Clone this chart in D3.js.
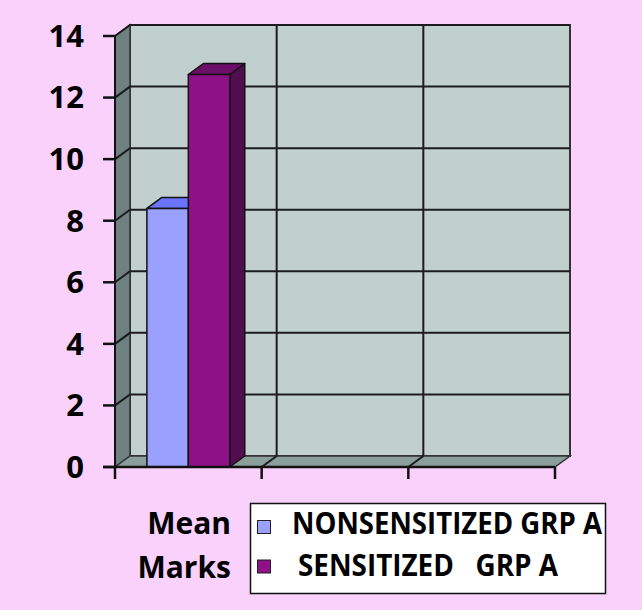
<!DOCTYPE html>
<html>
<head>
<meta charset="utf-8">
<script src="https://cdn.jsdelivr.net/npm/d3@7"></script>
<style>
  html, body { margin: 0; padding: 0; background: #f9d1fb; }
  svg { display: block; }
  text { font-family: "Open Sans", "Liberation Sans", sans-serif; font-weight: bold; fill: #000; }
</style>
</head>
<body>
<svg id="chart" width="642" height="610"></svg>
<script>
// ---- data ----
const categories = ["Mean Marks", "", " "];
const seriesNames = ["NONSENSITIZED GRP A", "SENSITIZED   GRP A"];
const nonsensitized = [8.4, null, null];
const sensitized = [12.75, null, null];
const yTicks = [0, 2, 4, 6, 8, 10, 12, 14];
const seriesColors = ["#99a0fe", "#8e1187"];
const seriesTopColors = ["#6a74fd", "#6c0f68"];
const seriesSideColors = ["#5f66c8", "#520c50"];

const svg = d3.select("#chart");
const W = 642, H = 610;
svg.append("rect").attr("width", W).attr("height", H).attr("fill", "#f9d1fb");

// 3D geometry
const dx = 15, dy = -11;
const x0 = 115, x1 = 555, yTop = 36, yBot = 467;

const y = d3.scaleLinear().domain([0, 14]).range([yBot, yTop]);
const x = d3.scaleBand().domain(categories).range([x0, x1]).paddingInner(0).paddingOuter(0);
const xs = d3.scaleBand().domain(seriesNames).range([0, x.bandwidth()]).paddingInner(0).paddingOuter(0.77);

const line = d3.line();
const gridColor = "#1c1c1c";

// back wall
svg.append("path")
  .attr("d", line([[x0 + dx, y(14) + dy], [x1 + dx, y(14) + dy], [x1 + dx, y(0) + dy], [x0 + dx, y(0) + dy]]) + "Z")
  .attr("fill", "#c2cfcf").attr("stroke", "#333").attr("stroke-width", 2);
// side wall
svg.append("path")
  .attr("d", line([[x0, y(14)], [x0 + dx, y(14) + dy], [x0 + dx, y(0) + dy], [x0, y(0)]]) + "Z")
  .attr("fill", "#6e8080").attr("stroke", "#333").attr("stroke-width", 1.5);
// floor
svg.append("path")
  .attr("d", line([[x0, y(0)], [x0 + dx, y(0) + dy], [x1 + dx, y(0) + dy], [x1, y(0)]]) + "Z")
  .attr("fill", "#8a9e9a").attr("stroke", "#333").attr("stroke-width", 1.5);

// horizontal gridlines (back + side wall)
yTicks.filter(t => t > 0).forEach(t => {
  svg.append("path")
    .attr("d", line([[x0, y(t)], [x0 + dx, y(t) + dy], [x1 + dx, y(t) + dy]]))
    .attr("fill", "none").attr("stroke", gridColor).attr("stroke-width", 2);
});
// vertical gridlines at category boundaries (back wall + floor)
categories.slice(1).forEach(c => {
  const xb = x(c);
  svg.append("path")
    .attr("d", line([[xb, y(0)], [xb + dx, y(0) + dy], [xb + dx, y(14) + dy]]))
    .attr("fill", "none").attr("stroke", gridColor).attr("stroke-width", 2);
});

// bars
const seriesValues = [nonsensitized, sensitized];
seriesNames.forEach((s, si) => {
  categories.forEach((c, ci) => {
    const v = seriesValues[si][ci];
    if (v == null) return;
    const bx = x(c) + xs(s), bw = xs.bandwidth();
    const by = y(v), b0 = y(0);
    const g = svg.append("g").attr("stroke", "#111").attr("stroke-width", 1.5).attr("stroke-linejoin", "round");
    // side
    g.append("path").attr("d", line([[bx + bw, by], [bx + bw + dx, by + dy], [bx + bw + dx, b0 + dy], [bx + bw, b0]]) + "Z")
      .attr("fill", seriesSideColors[si]);
    // top
    g.append("path").attr("d", line([[bx, by], [bx + dx, by + dy], [bx + bw + dx, by + dy], [bx + bw, by]]) + "Z")
      .attr("fill", seriesTopColors[si]);
    // front
    g.append("rect").attr("x", bx).attr("y", by).attr("width", bw).attr("height", b0 - by)
      .attr("fill", seriesColors[si]);
  });
});

// y axis
svg.append("line").attr("x1", x0).attr("x2", x0).attr("y1", y(14)).attr("y2", y(0))
  .attr("stroke", "#111").attr("stroke-width", 2);
yTicks.forEach(t => {
  svg.append("line").attr("x1", x0 - 12).attr("x2", x0).attr("y1", y(t)).attr("y2", y(t))
    .attr("stroke", "#111").attr("stroke-width", 2.5);
  svg.append("text").attr("x", 84).attr("y", y(t)).attr("dy", "0.35em")
    .attr("text-anchor", "end").attr("font-size", 31).text(t);
});

// x axis
svg.append("line").attr("x1", x0 - 12).attr("x2", x1).attr("y1", y(0)).attr("y2", y(0))
  .attr("stroke", "#111").attr("stroke-width", 2.5);
const xBounds = categories.map(c => x(c)).concat([x1]);
xBounds.forEach(xb => {
  svg.append("line").attr("x1", xb).attr("x2", xb).attr("y1", y(0)).attr("y2", y(0) + 12)
    .attr("stroke", "#111").attr("stroke-width", 2.5);
});

// category label (two lines, left of legend)
const catWords = categories[0].split(" ");
catWords.forEach((w, i) => {
  svg.append("text").attr("x", 231).attr("y", 534 + i * 44)
    .attr("text-anchor", "end").attr("font-size", 30).text(w);
});

// legend
const lg = svg.append("g");
lg.append("rect").attr("x", 250.5).attr("y", 503.5).attr("width", 355).attr("height", 90)
  .attr("fill", "#fff").attr("stroke", "#111").attr("stroke-width", 1.5);
const legendText = [{ x: 292, len: 310 }, { x: 298, len: 260 }];
seriesNames.forEach((s, i) => {
  const cy = 527 + i * 39.5;
  lg.append("rect").attr("x", 257.5).attr("y", cy - 6.5).attr("width", 13).attr("height", 13)
    .attr("fill", seriesColors[i]).attr("stroke", "#222").attr("stroke-width", 1);
  lg.append("text").attr("x", legendText[i].x).attr("y", 534 + i * 42)
    .attr("font-size", 30).style("white-space", "pre")
    .attr("textLength", legendText[i].len).attr("lengthAdjust", "spacingAndGlyphs")
    .text(s);
});
</script>
</body>
</html>
